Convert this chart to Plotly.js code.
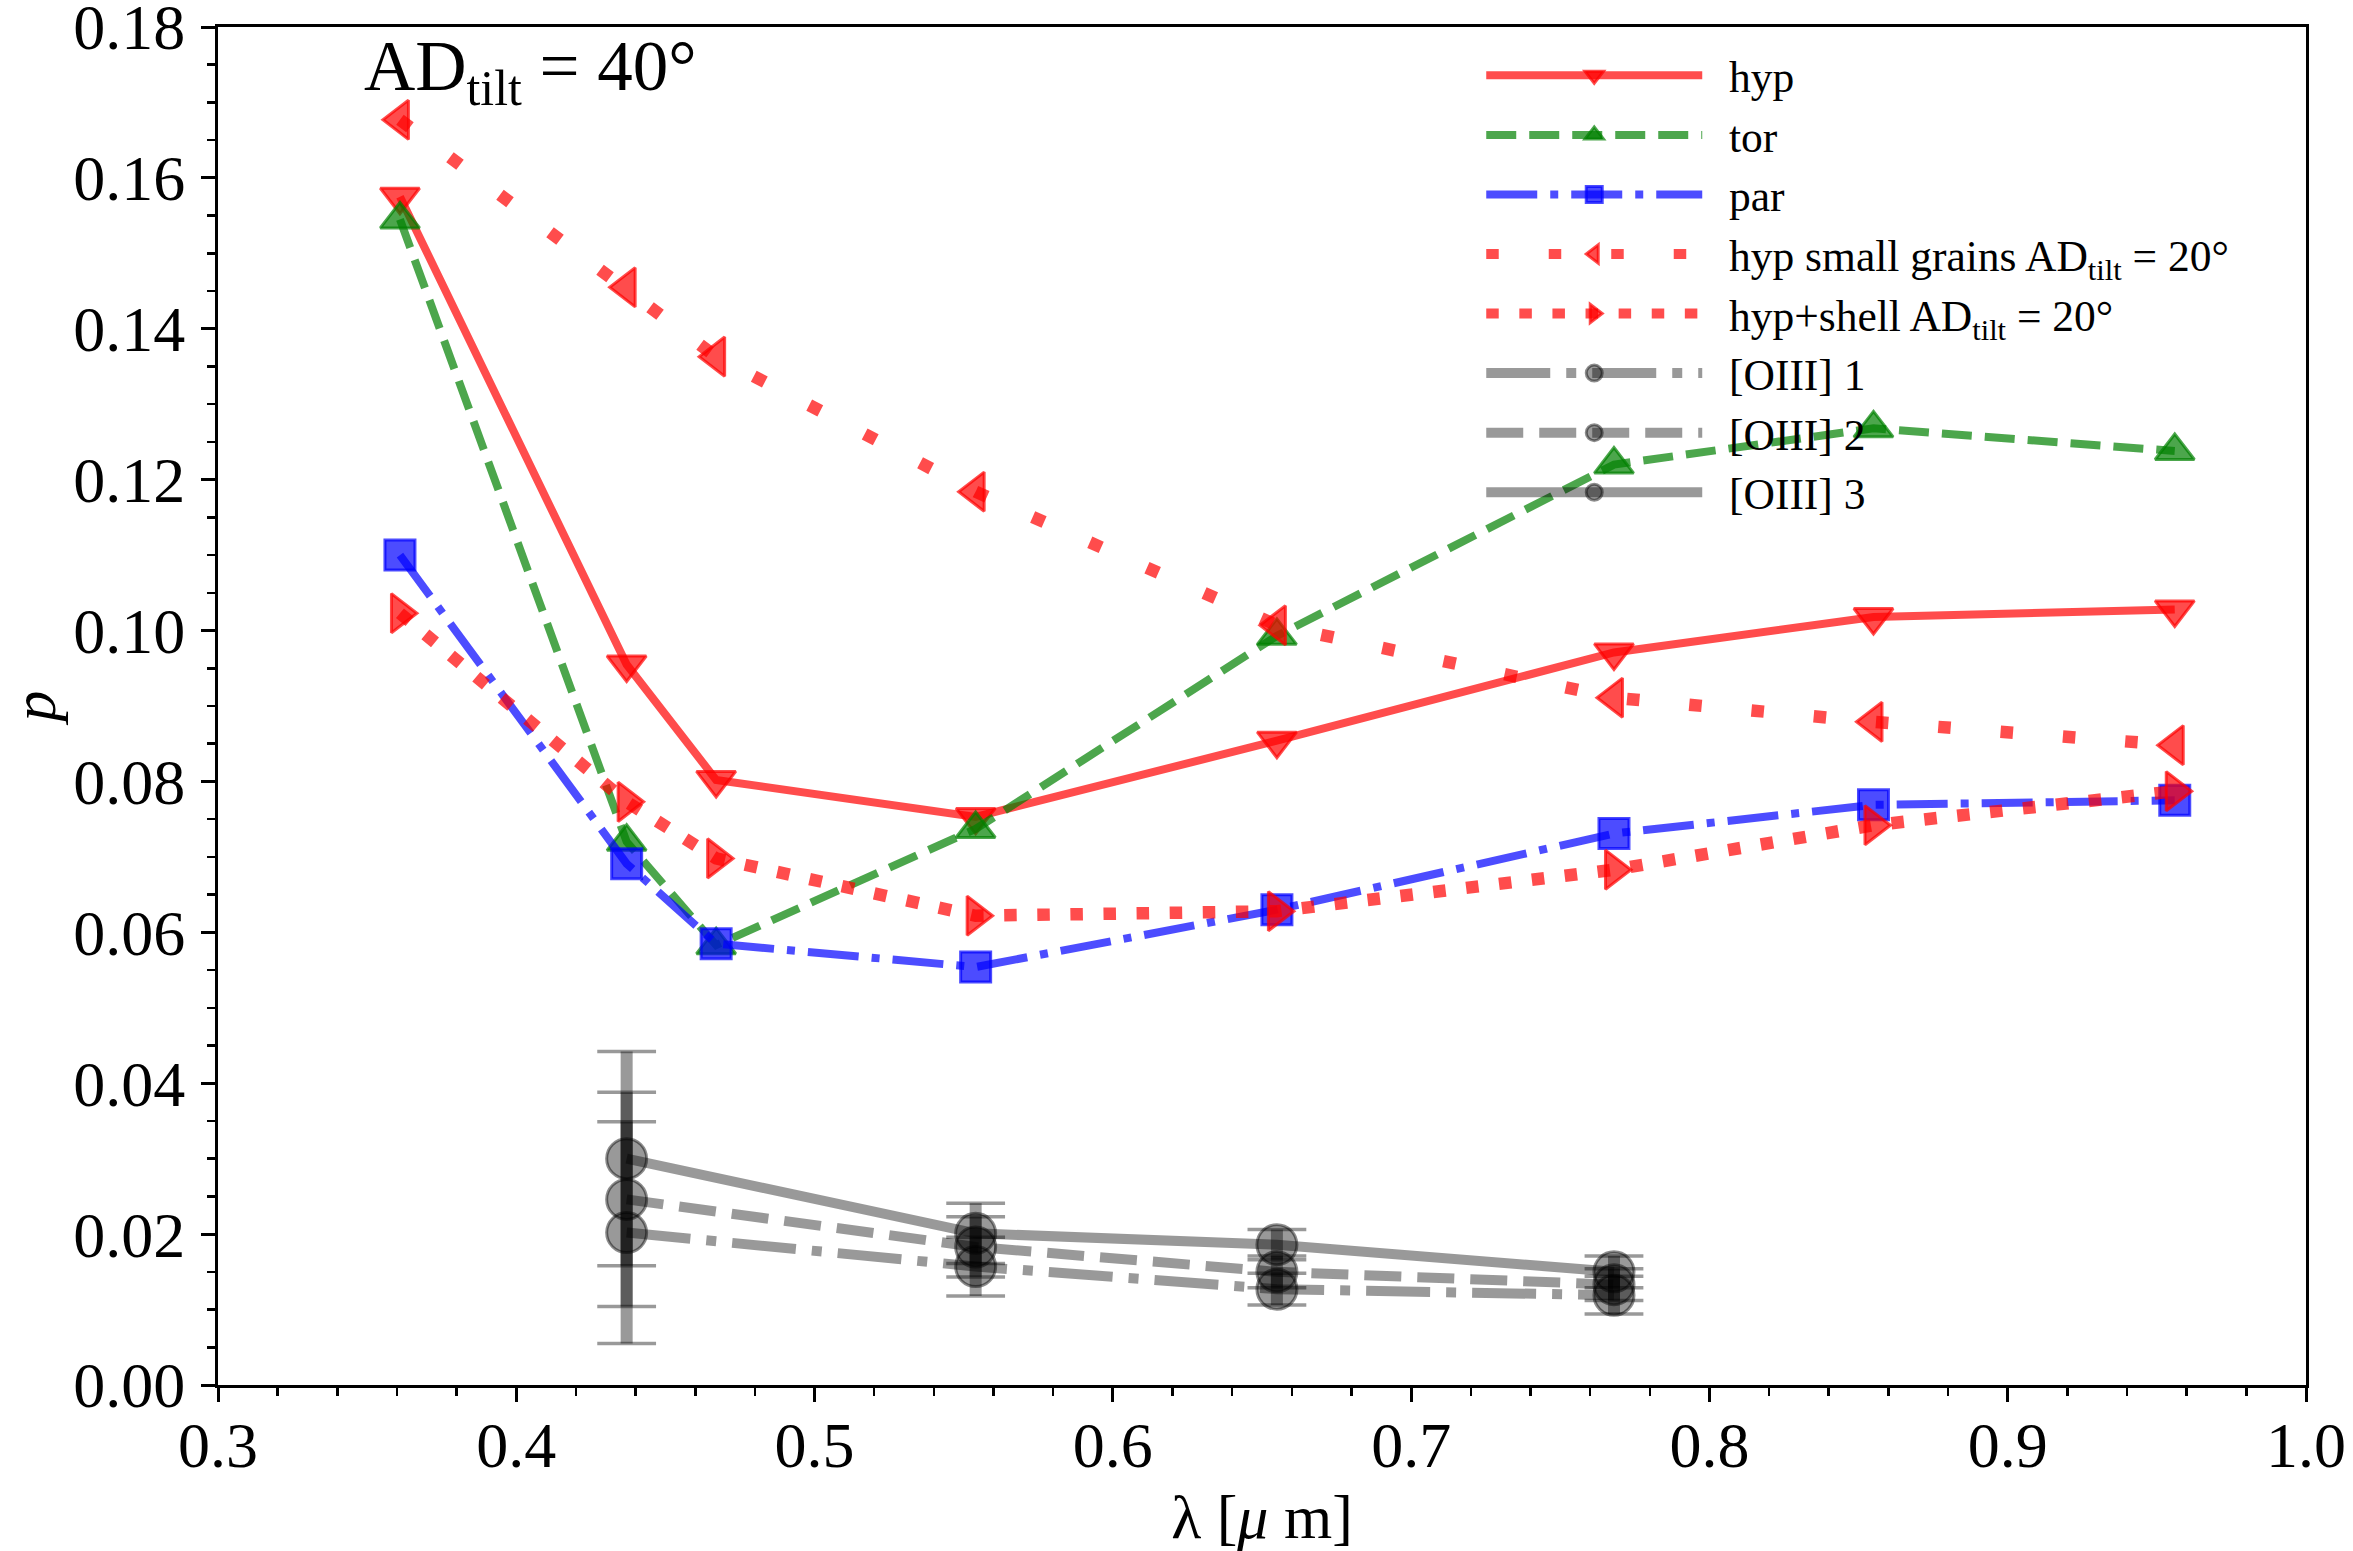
<!DOCTYPE html>
<html>
<head>
<meta charset="utf-8">
<script src="https://cdn.plot.ly/plotly-3.0.1.min.js"></script>
<style>
  html, body { margin: 0; padding: 0; background: #fff; }
  #chart { width: 2353px; height: 1551px; }
</style>
</head>
<body>
<div id="chart"></div>
<script>
// wavelengths of the model bands (micron)
const wavelengths = [0.361, 0.437, 0.467, 0.554, 0.655, 0.768, 0.855, 0.956];

// model polarisation degree
const hyp = [0.1575, 0.0955, 0.0802, 0.0753, 0.0854, 0.0971, 0.1018, 0.1028];
const tor = [0.1545, 0.0720, 0.0583, 0.0737, 0.0993, 0.1220, 0.1268, 0.1238];
const par = [0.1100, 0.0691, 0.0585, 0.0554, 0.0630, 0.0731, 0.0769, 0.0775];
const hypSmallGrains = [0.1677, 0.1455, 0.1363, 0.1184, 0.1007, 0.0911, 0.0879, 0.0848];
const hypShell = [0.1023, 0.0773, 0.0698, 0.0622, 0.0628, 0.0683, 0.0742, 0.0787];

// [OIII] observations
const oiiiWavelengths = [0.437, 0.554, 0.655, 0.768];
const oiii1 = [0.0202, 0.0157, 0.0127, 0.0119];
const oiii1Err = [0.0147, 0.0039, 0.0021, 0.0025];
const oiii2 = [0.0246, 0.0183, 0.0150, 0.0133];
const oiii2Err = [0.0142, 0.0040, 0.0021, 0.0021];
const oiii3 = [0.0300, 0.0201, 0.0186, 0.0150];
const oiii3Err = [0.0142, 0.0040, 0.0020, 0.0021];

// axis ticks
const xTicks = [0.3, 0.4, 0.5, 0.6, 0.7, 0.8, 0.9, 1.0];
const yTicks = [0, 0.02, 0.04, 0.06, 0.08, 0.10, 0.12, 0.14, 0.16, 0.18];

const FONT = 'Liberation Serif, DejaVu Serif, serif';
const GREY = 'rgba(0,0,0,0.4)';

function model(name, y, rgb, dash, width, symbol, size) {
  return {
    name,
    x: wavelengths,
    y,
    type: 'scatter',
    mode: 'lines+markers',
    line: { color: `rgba(${rgb},0.7)`, width, dash },
    marker: {
      symbol,
      size,
      color: `rgba(${rgb},0.7)`,
      line: { color: `rgba(${rgb},0.7)`, width: 3 },
    },
  };
}

function oiii(name, y, err, dash) {
  return {
    name,
    x: oiiiWavelengths,
    y,
    type: 'scatter',
    mode: 'lines+markers',
    line: { color: GREY, width: 10, dash },
    marker: {
      symbol: 'circle',
      size: 40,
      color: GREY,
      line: { color: 'rgba(0,0,0,0.45)', width: 3 },
    },
    error_y: {
      type: 'data',
      array: err,
      visible: true,
      color: GREY,
      thickness: 12,
      width: 0,
    },
  };
}

// thin caps at the ends of the error bars
function caps(y, err) {
  return {
    x: oiiiWavelengths.concat(oiiiWavelengths),
    y: y.map((v, i) => v + err[i]).concat(y.map((v, i) => v - err[i])),
    type: 'scatter',
    mode: 'markers',
    showlegend: false,
    marker: { symbol: 'line-ew', size: 42, line: { color: GREY, width: 3.5 } },
  };
}

const sp = '\u2002';
const traces = [
  model(sp + 'hyp', hyp, '255,0,0', 'solid', 8, 'triangle-down', 34),
  model(sp + 'tor', tor, '0,128,0', '30px,13px', 8, 'triangle-up', 34),
  model(sp + 'par', par, '0,0,255', '51px,13px,8px,13px', 8, 'square', 30),
  model(sp + 'hyp small grains AD<sub>tilt</sub> = 20°', hypSmallGrains, '255,0,0', '12.5px,50px', 12.5, 'triangle-left', 34),
  model(sp + 'hyp+shell AD<sub>tilt</sub> = 20°', hypShell, '255,0,0', '12.5px,20.6px', 12.5, 'triangle-right', 34),
  oiii(sp + '[OIII] 1', oiii1, oiii1Err, '64px,16px,10px,16px'),
  oiii(sp + '[OIII] 2', oiii2, oiii2Err, '37px,16px'),
  oiii(sp + '[OIII] 3', oiii3, oiii3Err, 'solid'),
  caps(oiii1, oiii1Err),
  caps(oiii2, oiii2Err),
  caps(oiii3, oiii3Err),
];

const axisCommon = {
  showline: true,
  mirror: true,
  linecolor: '#000',
  linewidth: 3,
  showgrid: false,
  zeroline: false,
  ticks: 'outside',
  ticklen: 14,
  tickwidth: 3,
  tickcolor: '#000',
  ticklabeloverflow: 'allow',
  tickfont: { family: FONT, size: 64, color: '#000' },
};

const layout = {
  width: 2353,
  height: 1551,
  margin: { l: 218, r: 47, t: 27, b: 166 },
  paper_bgcolor: '#fff',
  plot_bgcolor: '#fff',
  font: { family: FONT, color: '#000' },
  showlegend: true,
  legend: {
    x: 0.605,
    y: 0.99,
    xanchor: 'left',
    yanchor: 'top',
    bgcolor: 'rgba(0,0,0,0)',
    borderwidth: 0,
    itemwidth: 216,
    font: { family: FONT, size: 43.5, color: '#000' },
  },
  xaxis: Object.assign({}, axisCommon, {
    range: [0.3, 1.0],
    tickvals: xTicks,
    ticktext: xTicks.map((v) => v.toFixed(1)),
    ticklabelstandoff: -12,
    minor: { dtick: 0.02, tick0: 0.3, ticks: 'outside', ticklen: 8, tickwidth: 2.5, tickcolor: '#000', showgrid: false },
    title: { text: 'λ [<i>μ</i> m]', font: { family: FONT, size: 62, color: '#000' }, standoff: 38 },
  }),
  yaxis: Object.assign({}, axisCommon, {
    range: [0, 0.18],
    tickvals: yTicks,
    ticktext: yTicks.map((v) => v.toFixed(2)),
    ticklabelstandoff: 3,
    minor: { dtick: 0.005, tick0: 0, ticks: 'outside', ticklen: 8, tickwidth: 2.5, tickcolor: '#000', showgrid: false },
    title: { text: '<i>p</i>', font: { family: FONT, size: 62, color: '#000' }, standoff: 42 },
  }),
  annotations: [{
    xref: 'paper', yref: 'paper',
    x: 0.069, y: 0.967,
    xanchor: 'left', yanchor: 'middle',
    showarrow: false,
    text: 'AD<sub>tilt</sub> = 40°',
    font: { family: FONT, size: 71, color: '#000' },
  }],
};

Plotly.newPlot('chart', traces, layout, { displayModeBar: false, staticPlot: true });
</script>
</body>
</html>
